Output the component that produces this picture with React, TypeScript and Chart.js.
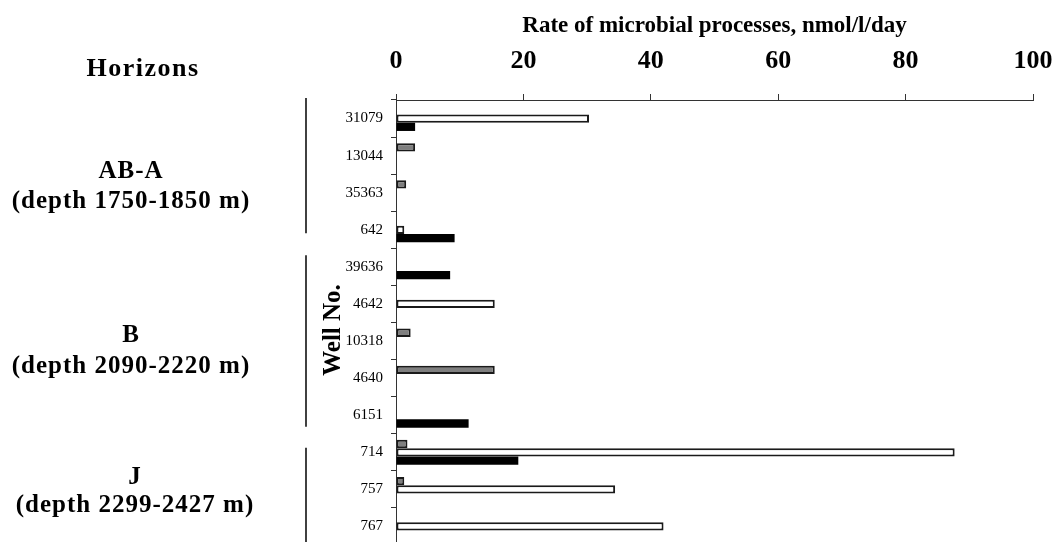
import React, { useEffect, useRef } from "react";
import { Chart, registerables } from "chart.js";

Chart.register(...registerables);

const wells = ["31079", "13044", "35363", "642", "39636", "4642", "10318", "4640", "6151", "714", "757", "767"];
const grayValues = [null, 3.0, 1.6, null, null, null, 2.3, 15.5, null, 1.8, 1.3, null];
const whiteValues = [30.3, null, null, 1.3, null, 15.5, null, null, null, 87.7, 34.4, 42.0];
const blackValues = [3.0, null, null, 9.2, 8.5, null, null, null, 11.4, 19.2, null, null];
const xTicks = [0, 20, 40, 60, 80, 100];

const horizonNames = ["AB-A", "B", "J"];
const horizonDepths = ["(depth 1750-1850 m)", "(depth 2090-2220 m)", "(depth 2299-2427 m)"];
const horizonFirstIndex = [0, 4, 9];
const horizonLastIndex = [3, 8, 11];

const FONT = '"Liberation Serif", "Times New Roman", serif';

const annotationPlugin = {
  id: "annotations",
  afterDraw(chart: any) {
    const ctx = chart.ctx;
    const y = chart.scales.y;
    const catH = (y.bottom - y.top) / wells.length;
    const boundary = (i: number) => y.top + catH * i;
    ctx.save();
    ctx.fillStyle = "#000";
    ctx.strokeStyle = "#111";
    ctx.textAlign = "center";
    ctx.textBaseline = "alphabetic";

    ctx.font = `bold 26px ${FONT}`;
    (ctx as any).letterSpacing = "1.5px";
    ctx.fillText("Horizons", 143, 76);

    // group brackets
    ctx.lineWidth = 1.6;
    const lineSpans = [
      [boundary(horizonFirstIndex[0]) - 2, boundary(horizonLastIndex[0] + 1) - 15],
      [boundary(horizonFirstIndex[1]) + 7, boundary(horizonLastIndex[1] + 1) - 7],
      [boundary(horizonFirstIndex[2]) + 14, boundary(horizonLastIndex[2] + 1) + 2],
    ];
    lineSpans.forEach(([a, b]) => {
      ctx.beginPath();
      ctx.moveTo(306, a);
      ctx.lineTo(306, b);
      ctx.stroke();
    });

    const nameBase = [178, 342, 484];
    const depthBase = [208, 373, 512];
    const centerX = [131, 131, 135];
    (ctx as any).letterSpacing = "1px";
    horizonNames.forEach((n, i) => {
      ctx.font = `bold 25px ${FONT}`;
      ctx.fillText(n, centerX[i], nameBase[i]);
      ctx.fillText(horizonDepths[i], centerX[i], depthBase[i]);
    });
    (ctx as any).letterSpacing = "0px";

    // Well No. rotated
    ctx.translate(340, 330);
    ctx.rotate(-Math.PI / 2);
    ctx.font = `bold 25px ${FONT}`;
    ctx.textBaseline = "alphabetic";
    ctx.fillText("Well No.", 0, 0);
    ctx.restore();
  },
};

export default function App() {
  const ref = useRef<HTMLCanvasElement | null>(null);
  useEffect(() => {
    if (!ref.current) return;
    const chart = new Chart(ref.current, {
      type: "bar",
      data: {
        labels: wells,
        datasets: [
          {
            label: "gray",
            data: grayValues as any,
            backgroundColor: "#7f7f7f",
            borderColor: "#1a1a1a",
            borderWidth: 2,
            borderSkipped: false,
          },
          {
            label: "white",
            data: whiteValues as any,
            backgroundColor: "#ffffff",
            borderColor: "#1a1a1a",
            borderWidth: 2,
            borderSkipped: false,
          },
          {
            label: "black",
            data: blackValues as any,
            backgroundColor: "#000000",
            borderColor: "#000000",
            borderWidth: 0,
            borderSkipped: false,
          },
        ],
      },
      options: {
        indexAxis: "y",
        responsive: false,
        animation: false,
        devicePixelRatio: 1,
        categoryPercentage: 0.67,
        barPercentage: 1.0,
        layout: { padding: { left: 0, right: 22, top: 0, bottom: 0 } },
        plugins: {
          legend: { display: false },
          tooltip: { enabled: false },
        },
        scales: {
          x: {
            position: "top",
            min: 0,
            max: 100,
            afterBuildTicks(scale: any) {
              scale.ticks = xTicks.map((v) => ({ value: v }));
            },
            afterFit(scale: any) {
              scale.height = 100;
              scale.paddingLeft = 0;
              scale.paddingRight = 0;
            },
            ticks: {
              color: "#000",
              padding: 17,
              maxRotation: 0,
              font: { family: FONT, size: 26, weight: "bold" },
            },
            grid: {
              display: true,
              drawOnChartArea: false,
              drawTicks: true,
              tickLength: 6,
              color: "#333",
              lineWidth: 1,
            },
            border: { display: true, color: "#333", width: 1 },
            title: {
              display: true,
              text: "Rate of microbial processes, nmol/l/day",
              color: "#000",
              font: { family: FONT, size: 23, weight: "bold" },
              padding: { top: 12, bottom: 0 },
            },
          },
          y: {
            afterFit(scale: any) {
              scale.width = 396;
              scale.paddingTop = 0;
              scale.paddingBottom = 0;
            },
            ticks: {
              color: "#000",
              padding: 8,
              font: { family: FONT, size: 15 },
            },
            grid: {
              display: true,
              drawOnChartArea: false,
              drawTicks: true,
              tickLength: 5,
              offset: true,
              color: "#333",
              lineWidth: 1,
            },
            border: { display: true, color: "#333", width: 1 },
          },
        },
      } as any,
      plugins: [annotationPlugin],
    });
    return () => chart.destroy();
  }, []);

  return (
    <div
      style={{
        position: "fixed",
        left: 0,
        top: 0,
        width: 1055,
        height: 542,
        overflow: "hidden",
        background: "#fff",
      }}
    >
      <canvas ref={ref} width={1055} height={545} style={{ display: "block" }} />
    </div>
  );
}
